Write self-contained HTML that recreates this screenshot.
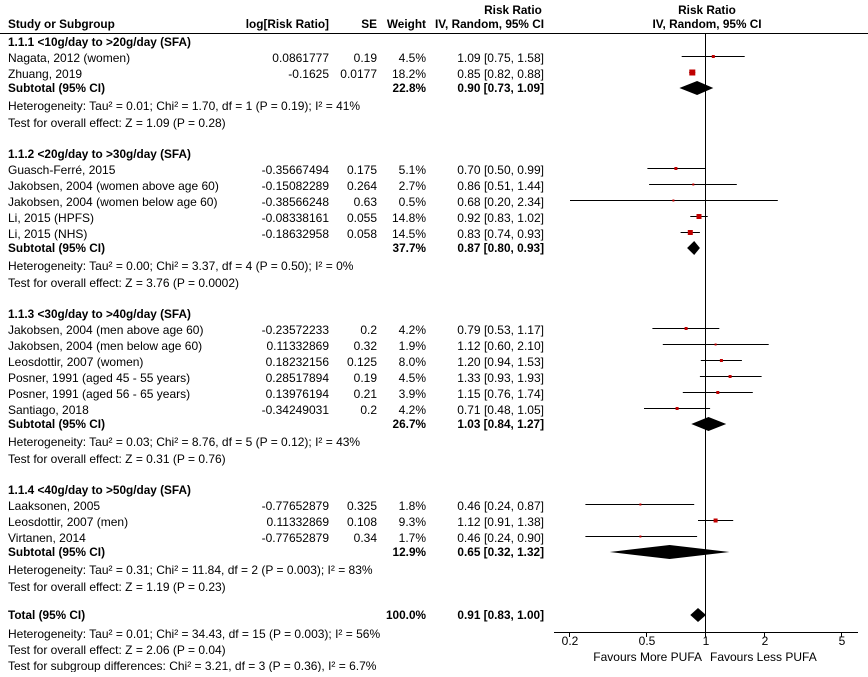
<!DOCTYPE html>
<html><head><meta charset="utf-8"><style>
html,body{margin:0;padding:0;background:#fff;}
svg text{font-family:"Liberation Sans",Arial,sans-serif;font-size:12px;fill:#000;}
.b{font-weight:bold;font-size:11.8px;}
.r{text-anchor:end;}
.m{text-anchor:middle;}
</style></head><body>
<svg width="868" height="672" xmlns="http://www.w3.org/2000/svg">
<text x="513" y="14" class="b m">Risk Ratio</text>
<text x="707" y="14" class="b m">Risk Ratio</text>
<text x="8" y="28" class="b">Study or Subgroup</text>
<text x="329" y="28" class="b r">log[Risk Ratio]</text>
<text x="377" y="28" class="b r">SE</text>
<text x="426" y="28" class="b r">Weight</text>
<text x="544" y="28" class="b r">IV, Random, 95% CI</text>
<text x="707" y="28" class="b m">IV, Random, 95% CI</text>
<line x1="0" y1="33.5" x2="868" y2="33.5" stroke="#000" stroke-width="1"/>
<line x1="705.5" y1="34" x2="705.5" y2="632" stroke="#000" stroke-width="1"/>

<g id="txt">
<text x="8" y="46" class="b">1.1.1 &lt;10g/day to &gt;20g/day (SFA)</text>
<text x="8" y="62">Nagata, 2012 (women)</text><text x="329" y="62" class="r">0.0861777</text><text x="377" y="62" class="r">0.19</text><text x="426" y="62" class="r">4.5%</text><text x="544" y="62" class="r">1.09 [0.75, 1.58]</text>
<text x="8" y="78">Zhuang, 2019</text><text x="329" y="78" class="r">-0.1625</text><text x="377" y="78" class="r">0.0177</text><text x="426" y="78" class="r">18.2%</text><text x="544" y="78" class="r">0.85 [0.82, 0.88]</text>
<text x="8" y="92" class="b">Subtotal (95% CI)</text><text x="426" y="92" class="b r">22.8%</text><text x="544" y="92" class="b r">0.90 [0.73, 1.09]</text>
<text x="8" y="110">Heterogeneity: Tau² = 0.01; Chi² = 1.70, df = 1 (P = 0.19); I² = 41%</text>
<text x="8" y="127">Test for overall effect: Z = 1.09 (P = 0.28)</text>

<text x="8" y="158" class="b">1.1.2 &lt;20g/day to &gt;30g/day (SFA)</text>
<text x="8" y="174">Guasch-Ferré, 2015</text><text x="329" y="174" class="r">-0.35667494</text><text x="377" y="174" class="r">0.175</text><text x="426" y="174" class="r">5.1%</text><text x="544" y="174" class="r">0.70 [0.50, 0.99]</text>
<text x="8" y="190">Jakobsen, 2004 (women above age 60)</text><text x="329" y="190" class="r">-0.15082289</text><text x="377" y="190" class="r">0.264</text><text x="426" y="190" class="r">2.7%</text><text x="544" y="190" class="r">0.86 [0.51, 1.44]</text>
<text x="8" y="206">Jakobsen, 2004 (women below age 60)</text><text x="329" y="206" class="r">-0.38566248</text><text x="377" y="206" class="r">0.63</text><text x="426" y="206" class="r">0.5%</text><text x="544" y="206" class="r">0.68 [0.20, 2.34]</text>
<text x="8" y="222">Li, 2015 (HPFS)</text><text x="329" y="222" class="r">-0.08338161</text><text x="377" y="222" class="r">0.055</text><text x="426" y="222" class="r">14.8%</text><text x="544" y="222" class="r">0.92 [0.83, 1.02]</text>
<text x="8" y="238">Li, 2015 (NHS)</text><text x="329" y="238" class="r">-0.18632958</text><text x="377" y="238" class="r">0.058</text><text x="426" y="238" class="r">14.5%</text><text x="544" y="238" class="r">0.83 [0.74, 0.93]</text>
<text x="8" y="252" class="b">Subtotal (95% CI)</text><text x="426" y="252" class="b r">37.7%</text><text x="544" y="252" class="b r">0.87 [0.80, 0.93]</text>
<text x="8" y="270">Heterogeneity: Tau² = 0.00; Chi² = 3.37, df = 4 (P = 0.50); I² = 0%</text>
<text x="8" y="287">Test for overall effect: Z = 3.76 (P = 0.0002)</text>

<text x="8" y="318" class="b">1.1.3 &lt;30g/day to &gt;40g/day (SFA)</text>
<text x="8" y="334">Jakobsen, 2004 (men above age 60)</text><text x="329" y="334" class="r">-0.23572233</text><text x="377" y="334" class="r">0.2</text><text x="426" y="334" class="r">4.2%</text><text x="544" y="334" class="r">0.79 [0.53, 1.17]</text>
<text x="8" y="350">Jakobsen, 2004 (men below age 60)</text><text x="329" y="350" class="r">0.11332869</text><text x="377" y="350" class="r">0.32</text><text x="426" y="350" class="r">1.9%</text><text x="544" y="350" class="r">1.12 [0.60, 2.10]</text>
<text x="8" y="366">Leosdottir, 2007 (women)</text><text x="329" y="366" class="r">0.18232156</text><text x="377" y="366" class="r">0.125</text><text x="426" y="366" class="r">8.0%</text><text x="544" y="366" class="r">1.20 [0.94, 1.53]</text>
<text x="8" y="382">Posner, 1991 (aged 45 - 55 years)</text><text x="329" y="382" class="r">0.28517894</text><text x="377" y="382" class="r">0.19</text><text x="426" y="382" class="r">4.5%</text><text x="544" y="382" class="r">1.33 [0.93, 1.93]</text>
<text x="8" y="398">Posner, 1991 (aged 56 - 65 years)</text><text x="329" y="398" class="r">0.13976194</text><text x="377" y="398" class="r">0.21</text><text x="426" y="398" class="r">3.9%</text><text x="544" y="398" class="r">1.15 [0.76, 1.74]</text>
<text x="8" y="414">Santiago, 2018</text><text x="329" y="414" class="r">-0.34249031</text><text x="377" y="414" class="r">0.2</text><text x="426" y="414" class="r">4.2%</text><text x="544" y="414" class="r">0.71 [0.48, 1.05]</text>
<text x="8" y="428" class="b">Subtotal (95% CI)</text><text x="426" y="428" class="b r">26.7%</text><text x="544" y="428" class="b r">1.03 [0.84, 1.27]</text>
<text x="8" y="446">Heterogeneity: Tau² = 0.03; Chi² = 8.76, df = 5 (P = 0.12); I² = 43%</text>
<text x="8" y="463">Test for overall effect: Z = 0.31 (P = 0.76)</text>

<text x="8" y="494" class="b">1.1.4 &lt;40g/day to &gt;50g/day (SFA)</text>
<text x="8" y="510">Laaksonen, 2005</text><text x="329" y="510" class="r">-0.77652879</text><text x="377" y="510" class="r">0.325</text><text x="426" y="510" class="r">1.8%</text><text x="544" y="510" class="r">0.46 [0.24, 0.87]</text>
<text x="8" y="526">Leosdottir, 2007 (men)</text><text x="329" y="526" class="r">0.11332869</text><text x="377" y="526" class="r">0.108</text><text x="426" y="526" class="r">9.3%</text><text x="544" y="526" class="r">1.12 [0.91, 1.38]</text>
<text x="8" y="542">Virtanen, 2014</text><text x="329" y="542" class="r">-0.77652879</text><text x="377" y="542" class="r">0.34</text><text x="426" y="542" class="r">1.7%</text><text x="544" y="542" class="r">0.46 [0.24, 0.90]</text>
<text x="8" y="556" class="b">Subtotal (95% CI)</text><text x="426" y="556" class="b r">12.9%</text><text x="544" y="556" class="b r">0.65 [0.32, 1.32]</text>
<text x="8" y="574">Heterogeneity: Tau² = 0.31; Chi² = 11.84, df = 2 (P = 0.003); I² = 83%</text>
<text x="8" y="591">Test for overall effect: Z = 1.19 (P = 0.23)</text>

<text x="8" y="619" class="b">Total (95% CI)</text><text x="426" y="619" class="b r">100.0%</text><text x="544" y="619" class="b r">0.91 [0.83, 1.00]</text>
<text x="8" y="638">Heterogeneity: Tau² = 0.01; Chi² = 34.43, df = 15 (P = 0.003); I² = 56%</text>
<text x="8" y="654">Test for overall effect: Z = 2.06 (P = 0.04)</text>
<text x="8" y="670">Test for subgroup differences: Chi² = 3.21, df = 3 (P = 0.36), I² = 6.7%</text>
</g>

<g stroke="#000" stroke-width="1">
<line x1="681.7" y1="56.5" x2="744.7" y2="56.5"/>
<line x1="689.2" y1="72.5" x2="695.2" y2="72.5"/>
<line x1="647.4" y1="168.5" x2="705.2" y2="168.5"/>
<line x1="649.1" y1="184.5" x2="736.8" y2="184.5"/>
<line x1="570" y1="200.5" x2="777.8" y2="200.5"/>
<line x1="690.3" y1="216.5" x2="707.7" y2="216.5"/>
<line x1="680.6" y1="232.5" x2="699.9" y2="232.5"/>
<line x1="652.4" y1="328.5" x2="719.3" y2="328.5"/>
<line x1="662.8" y1="344.5" x2="768.7" y2="344.5"/>
<line x1="700.8" y1="360.5" x2="741.9" y2="360.5"/>
<line x1="699.9" y1="376.5" x2="761.6" y2="376.5"/>
<line x1="682.8" y1="392.5" x2="752.8" y2="392.5"/>
<line x1="644" y1="408.5" x2="710.1" y2="408.5"/>
<line x1="585.4" y1="504.5" x2="694.2" y2="504.5"/>
<line x1="698" y1="520.5" x2="733.2" y2="520.5"/>
<line x1="585.4" y1="536.5" x2="697.1" y2="536.5"/>
</g>
<g fill="#c00000">
<rect x="711.8" y="55" width="3" height="3"/>
<rect x="689.3" y="69.5" width="6" height="6"/>
<rect x="674.4" y="167" width="3" height="3"/>
<rect x="692.3" y="183.5" width="2" height="2"/>
<rect x="672.4" y="199.5" width="2" height="2"/>
<rect x="696.5" y="214" width="5" height="5"/>
<rect x="687.8" y="230" width="5" height="5"/>
<rect x="684.6" y="327" width="3" height="3"/>
<rect x="714.6" y="343.5" width="2" height="2"/>
<rect x="719.9" y="359" width="3" height="3"/>
<rect x="728.6" y="375" width="3" height="3"/>
<rect x="716.3" y="391" width="3" height="3"/>
<rect x="675.6" y="407" width="3" height="3"/>
<rect x="639.4" y="503.5" width="2" height="2"/>
<rect x="713.6" y="518.5" width="4" height="4"/>
<rect x="639.4" y="535.5" width="2" height="2"/>
</g>
<g fill="#000">
<polygon points="679.4,88 697.1,81 713.3,88 697.1,95"/>
<polygon points="687.1,248 694.2,241 699.9,248 694.2,255"/>
<polygon points="691.3,424 708.5,417 726.2,424 708.5,431"/>
<polygon points="609.7,552 669.6,545 729.5,552 669.6,559"/>
<polygon points="690.3,615 698,608 706,615 698,622"/>
</g>

<g stroke="#000" stroke-width="1">
<line x1="554" y1="632.5" x2="858" y2="632.5"/>
<line x1="569.5" y1="632" x2="569.5" y2="637"/>
<line x1="646.5" y1="632" x2="646.5" y2="637"/>
<line x1="705.5" y1="632" x2="705.5" y2="637"/>
<line x1="764.5" y1="632" x2="764.5" y2="637"/>
<line x1="841.5" y1="632" x2="841.5" y2="637"/>
</g>
<text x="570" y="645" class="m">0.2</text>
<text x="647" y="645" class="m">0.5</text>
<text x="706" y="645" class="m">1</text>
<text x="765" y="645" class="m">2</text>
<text x="842" y="645" class="m">5</text>
<text x="702" y="661" class="r">Favours More PUFA</text>
<text x="710" y="661">Favours Less PUFA</text>
</svg>
</body></html>
